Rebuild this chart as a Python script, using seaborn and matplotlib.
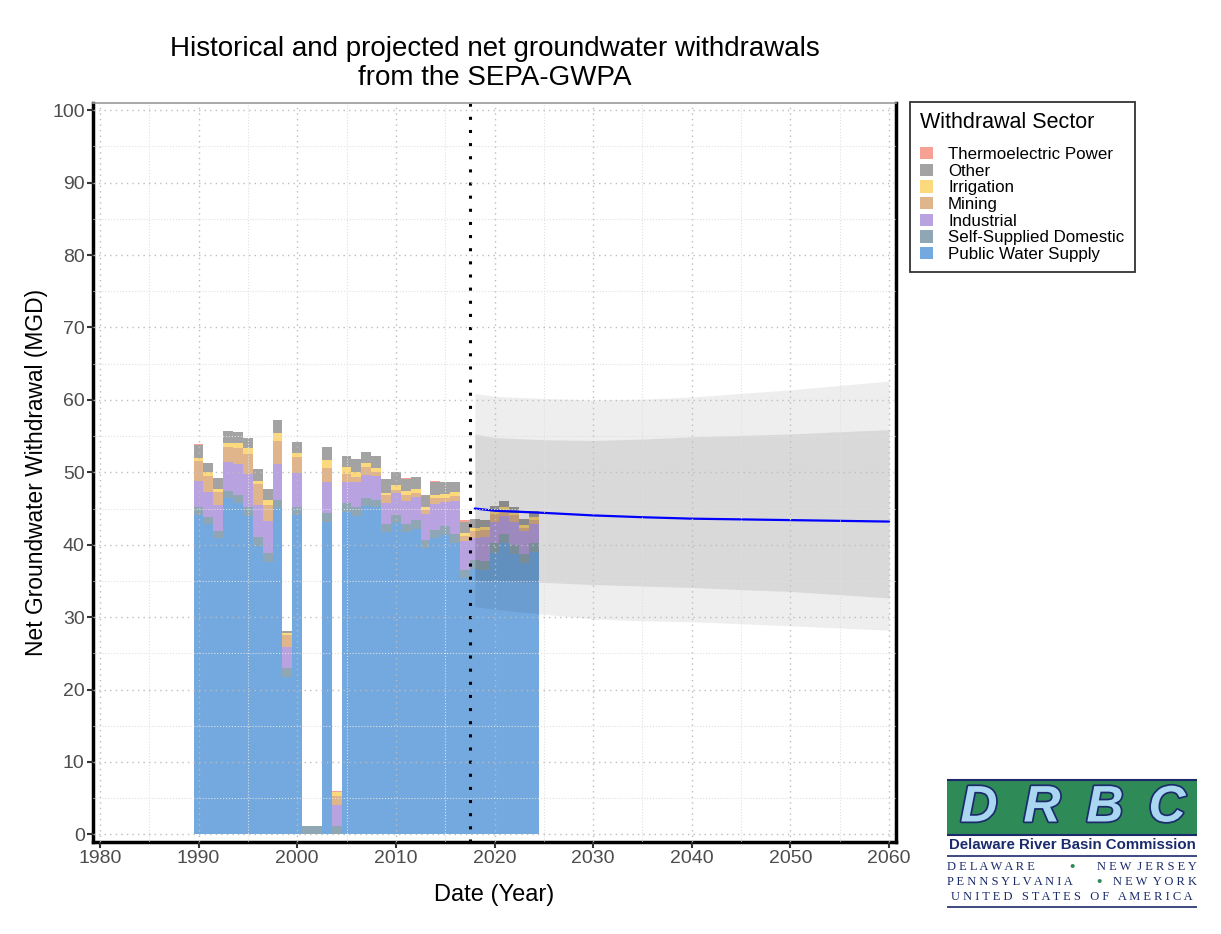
import pandas as pd
import matplotlib.pyplot as plt
import matplotlib.patheffects as pe
from matplotlib.patches import Patch
import seaborn as sns

# historical withdrawals by sector (MGD)
years = list(range(1990, 2025))
public_water = [44.1, 42.85, 40.9, 46.4, 45.8, 44.0, 39.8, 37.65, 45.05, 21.8,
                44.1, 0.0, 0.0, 43.2, 0.0, 44.55, 44.0, 45.4, 45.2, 41.75,
                43.0, 41.8, 42.2, 39.5, 40.9, 41.4, 40.3, 35.45, 36.65, 36.55,
                38.9, 40.3, 38.75, 37.5, 39.0]
self_domestic = [1.1, 1.0, 1.0, 1.05, 1.1, 1.2, 1.2, 1.25, 1.15, 1.2,
                 1.1, 1.1, 1.1, 1.2, 1.1, 1.25, 1.2, 1.1, 1.0, 1.1,
                 1.1, 1.05, 1.25, 1.2, 1.17, 1.2, 1.2, 1.1, 1.25, 1.25,
                 1.3, 1.2, 1.25, 1.25, 1.3]
industrial = [3.6, 3.5, 3.6, 4.0, 4.2, 4.6, 4.5, 4.4, 5.0, 2.9,
              4.7, 0.0, 0.0, 4.3, 2.9, 2.8, 3.5, 3.15, 3.3, 2.95,
              3.1, 3.25, 3.15, 3.6, 3.58, 3.3, 4.57, 4.0, 3.05, 3.2,
              3.0, 2.5, 3.2, 3.15, 2.6]
mining = [2.7, 2.15, 1.8, 2.05, 2.2, 2.75, 2.95, 2.25, 3.15, 1.65,
          2.25, 0.0, 0.0, 1.9, 1.25, 1.2, 0.7, 1.1, 0.57, 1.1,
          0.4, 0.8, 0.5, 0.5, 0.85, 0.6, 0.69, 0.69, 1.0, 1.1,
          1.1, 0.7, 0.9, 0.45, 0.55]
irrigation = [0.5, 0.55, 0.45, 0.6, 0.7, 0.85, 0.35, 0.6, 1.1, 0.3,
              0.55, 0.0, 0.0, 1.1, 0.6, 0.9, 0.67, 0.55, 0.53, 0.3,
              0.7, 0.55, 0.6, 0.45, 0.4, 0.53, 0.59, 0.32, 0.3, 0.4,
              0.3, 0.55, 0.3, 0.41, 0.41]
other = [1.75, 1.3, 1.5, 1.6, 1.6, 1.4, 1.7, 1.55, 1.75, 0.25,
         1.5, 0.0, 0.0, 1.8, 0.0, 1.5, 1.83, 1.5, 1.7, 1.9,
         1.77, 1.65, 1.7, 1.65, 1.75, 1.67, 1.35, 1.64, 1.25, 0.9,
         0.8, 0.75, 0.85, 0.74, 0.74]
thermo = [0.2, 0, 0, 0, 0, 0, 0, 0, 0, 0,
          0, 0, 0, 0, 0.15, 0.1, 0, 0, 0, 0,
          0, 0.1, 0, 0, 0.1, 0, 0, 0.15, 0, 0,
          0, 0.1, 0, 0, 0]

# projection (MGD)
proj_years = [2018, 2020, 2025, 2030, 2035, 2040, 2045, 2050, 2055, 2060]
proj_mid = [45.0, 44.7, 44.4, 44.05, 43.8, 43.6, 43.5, 43.4, 43.3, 43.2]
inner_hi = [55.3, 54.8, 54.5, 54.4, 54.6, 54.9, 55.1, 55.3, 55.6, 55.9]
inner_lo = [35.1, 35.0, 34.8, 34.5, 34.3, 34.1, 33.8, 33.55, 33.1, 32.65]
outer_hi = [60.9, 60.5, 60.2, 60.0, 60.1, 60.4, 60.9, 61.4, 62.0, 62.6]
outer_lo = [31.45, 31.1, 30.4, 29.75, 29.5, 29.35, 29.1, 28.8, 28.5, 28.2]

sectors = ["Thermoelectric Power", "Other", "Irrigation", "Mining",
           "Industrial", "Self-Supplied Domestic", "Public Water Supply"]
colors = ["#F7A194", "#A3A3A3", "#FCD97C", "#E1B58C",
          "#B9A2E0", "#8FA7B5", "#73A9DF"]

df = pd.DataFrame({
    "year": years,
    "Thermoelectric Power": thermo,
    "Other": other,
    "Irrigation": irrigation,
    "Mining": mining,
    "Industrial": industrial,
    "Self-Supplied Domestic": self_domestic,
    "Public Water Supply": public_water,
})
long_df = df.melt(id_vars="year", var_name="sector", value_name="mgd")

sns.set_theme(style="white")
plt.rcParams["font.family"] = ["Liberation Sans", "DejaVu Sans"]
plt.rcParams["text.color"] = "black"

fig = plt.figure(figsize=(12.21, 9.34), dpi=100)
ax = fig.add_axes([93 / 1221, 1 - 842 / 934, 803 / 1221, 739 / 934])

sns.histplot(data=long_df, x="year", weights="mgd", hue="sector",
             hue_order=sectors, multiple="stack", discrete=True,
             palette=dict(zip(sectors, colors)), alpha=1, linewidth=0,
             legend=False, ax=ax)

# projection ribbons and median line
ax.fill_between(proj_years, outer_lo, outer_hi, color="black", alpha=0.065, linewidth=0)
ax.fill_between(proj_years, inner_lo, inner_hi, color="black", alpha=0.085, linewidth=0)
sns.lineplot(x=proj_years, y=proj_mid, color="#0000FF", linewidth=1.6, ax=ax)
ax.axvline(2017.5, color="black", linewidth=2.2, linestyle=(0, (1, 3.3)))

ax.set_xlim(1979.3, 2060.7)
ax.set_ylim(-1.05, 101)
ax.set_xticks(range(1980, 2061, 10))
ax.set_xticks(range(1985, 2060, 10), minor=True)
ax.set_yticks(range(0, 101, 10))
ax.set_yticks(range(5, 100, 10), minor=True)
ax.set_axisbelow(False)
ax.grid(True, which="major", linestyle=(0, (1, 3)), color="#BDBDBD", linewidth=1.0)
ax.grid(True, which="minor", linestyle=":", color="#E0E0E0", linewidth=0.8)
ax.tick_params(axis="both", which="major", labelsize=14, labelcolor="#4D4D4D",
               length=4, width=1.5, color="#333333", left=True, bottom=True, pad=2)
ax.tick_params(axis="both", which="minor", length=0)

for side in ["left", "bottom", "right"]:
    ax.spines[side].set_linewidth(2.5)
    ax.spines[side].set_color("black")
ax.spines["top"].set_linewidth(1.2)
ax.spines["top"].set_color("#999999")

ax.set_xlabel("Date (Year)", fontsize=17, color="black", labelpad=12)
ax.set_ylabel("Net Groundwater Withdrawal (MGD)", fontsize=16.4, color="black", labelpad=3)

fig.text(494.5 / 1221, 1 - 36 / 934,
         "Historical and projected net groundwater withdrawals\nfrom the SEPA-GWPA",
         ha="center", va="top", fontsize=20, linespacing=1.15, color="black")

handles = [Patch(facecolor=c, edgecolor="none", label=s) for s, c in zip(sectors, colors)]
leg = ax.legend(handles=handles, title="Withdrawal Sector", loc="upper left",
                bbox_to_anchor=(910 / 1221, 1 - 102 / 934), bbox_transform=fig.transFigure,
                frameon=True, fancybox=False, edgecolor="black", fontsize=12.2,
                title_fontsize=15.5, handlelength=0.75, handleheight=0.75,
                labelspacing=0.09, handletextpad=0.9, borderpad=0.6,
                alignment="left", borderaxespad=0)
leg._legend_box.sep = 10
leg.get_frame().set_linewidth(1.3)
leg.get_title().set_color("black")
for t in leg.get_texts():
    t.set_color("black")

# DRBC logo
navy = "#1B2A6B"
green = "#2E8A57"
lax = fig.add_axes([947 / 1221, 1 - 912 / 934, 250 / 1221, 134 / 934])
lax.set_xlim(0, 250)
lax.set_ylim(134, 0)
lax.axis("off")
lax.axhline(2, color=navy, linewidth=1.5)
lax.axhspan(3, 55, color=green)
for x, ch in zip([32, 95, 158, 220], "DRBC"):
    lax.text(x, 30, ch, ha="center", va="center", fontsize=37, fontweight="bold",
             style="italic", color="#A9D6F0",
             path_effects=[pe.withStroke(linewidth=2.5, foreground=navy)])
lax.axhline(57, color=navy, linewidth=1.5)
lax.text(125, 67, "Delaware River Basin Commission", ha="center", va="center",
         fontsize=10.8, fontweight="bold", color=navy)
lax.axhline(78, color=navy, linewidth=1.2)
serif = ["Liberation Serif", "DejaVu Serif"]
lax.text(0, 89, "D E L A W A R E", ha="left", va="center", fontsize=9, color=navy, family=serif)
lax.text(125, 89, "•", ha="center", va="center", fontsize=11, color=green)
lax.text(250, 89, "N E W  J E R S E Y", ha="right", va="center", fontsize=9, color=navy, family=serif)
lax.text(0, 104, "P E N N S Y L V A N I A", ha="left", va="center", fontsize=9, color=navy, family=serif)
lax.text(152, 104, "•", ha="center", va="center", fontsize=11, color=green)
lax.text(250, 104, "N E W  Y O R K", ha="right", va="center", fontsize=9, color=navy, family=serif)
lax.text(125, 119, "U N I T E D   S T A T E S   O F   A M E R I C A", ha="center", va="center",
         fontsize=9, color=navy, family=serif)
lax.axhline(129, color=navy, linewidth=1.2)

fig.savefig("out.png", dpi=100)
